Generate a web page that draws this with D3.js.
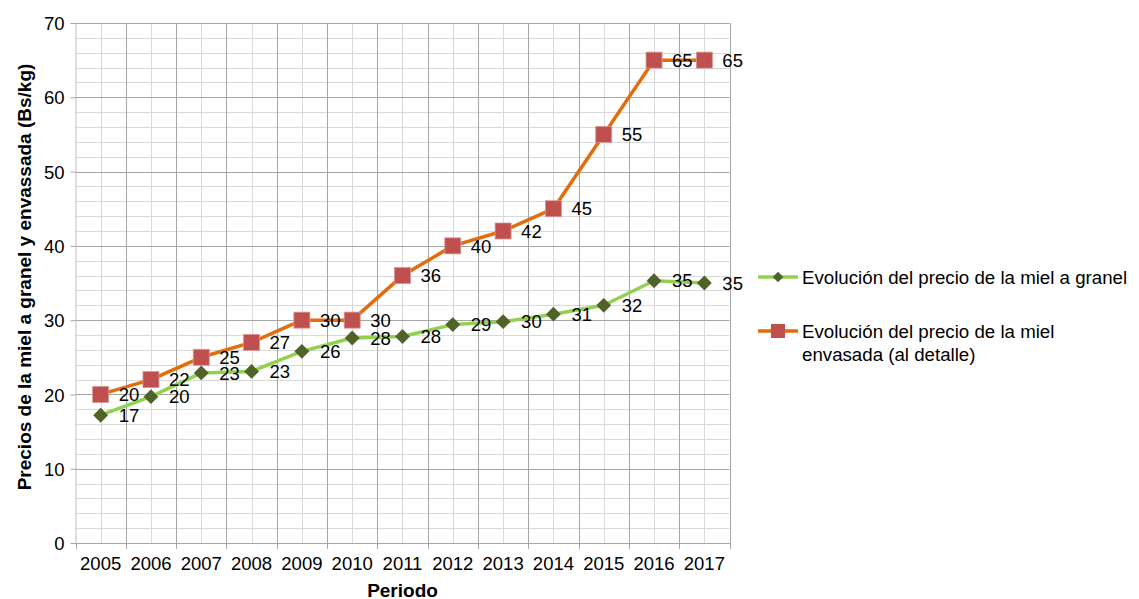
<!DOCTYPE html>
<html>
<head>
<meta charset="utf-8">
<script src="https://cdn.jsdelivr.net/npm/d3@7"></script>
<style>
  body { margin: 0; background: #fff; }
  text { font-family: "Liberation Sans", Arial, sans-serif; fill: #000; }
</style>
</head>
<body>
<div id="chart"></div>
<script>
// datos
var years = ["2005", "2006", "2007", "2008", "2009", "2010", "2011", "2012", "2013", "2014", "2015", "2016", "2017"];
var granel = [17.2, 19.7, 22.9, 23.1, 25.8, 27.6, 27.8, 29.4, 29.8, 30.8, 32.0, 35.3, 35.0];
var granelLabels = [17, 20, 23, 23, 26, 28, 28, 29, 30, 31, 32, 35, 35];
var envasada = [20, 22, 25, 27, 30, 30, 36, 40, 42, 45, 55, 65, 65];
var envasadaLabels = [20, 22, 25, 27, 30, 30, 36, 40, 42, 45, 55, 65, 65];
var yTicks = [0, 10, 20, 30, 40, 50, 60, 70];
var seriesNames = ["Evolución del precio de la miel a granel", "Evolución del precio de la miel envasada (al detalle)"];

var W = 1139, H = 599;
var pLeft = 75.5, pRight = 729.5, pTop = 23, pBottom = 543;

var svg = d3.select("#chart").append("svg")
    .attr("width", W)
    .attr("height", H);

var x = d3.scaleBand().domain(years).range([pLeft, pRight]).padding(0);
var y = d3.scaleLinear().domain([0, 70]).range([pBottom, pTop]);

var grid = svg.append("g");

// lineas menores horizontales (cada 2)
grid.selectAll("line.hmin")
    .data(d3.range(0, 71, 2).filter(function(d) { return d % 10 != 0; }))
    .enter().append("line")
    .attr("x1", pLeft).attr("x2", pRight)
    .attr("y1", function(d) { return Math.round(y(d)) + 0.5; })
    .attr("y2", function(d) { return Math.round(y(d)) + 0.5; })
    .style("stroke", "#d9d9d9");

// lineas menores verticales (centro de categoria)
grid.selectAll("line.vmin")
    .data(years)
    .enter().append("line")
    .attr("x1", function(d) { return Math.round(x(d) + x.bandwidth() / 2) + 0.5; })
    .attr("x2", function(d) { return Math.round(x(d) + x.bandwidth() / 2) + 0.5; })
    .attr("y1", pTop).attr("y2", pBottom)
    .style("stroke", "#d9d9d9");

// lineas mayores horizontales
grid.selectAll("line.hmaj")
    .data(yTicks.slice(1))
    .enter().append("line")
    .attr("x1", pLeft).attr("x2", pRight)
    .attr("y1", function(d) { return Math.round(y(d)) + 0.5; })
    .attr("y2", function(d) { return Math.round(y(d)) + 0.5; })
    .style("stroke", "#a6a6a6");

// lineas mayores verticales (limites)
var edges = years.slice(1).map(function(d) { return x(d); }).concat([pRight]);
grid.selectAll("line.vmaj")
    .data(edges)
    .enter().append("line")
    .attr("x1", function(d) { return Math.round(d) + 0.5; })
    .attr("x2", function(d) { return Math.round(d) + 0.5; })
    .attr("y1", pTop).attr("y2", pBottom)
    .style("stroke", "#a6a6a6");

// eje Y
var yAxis = svg.append("g")
    .attr("transform", "translate(" + pLeft + ",0)")
    .call(d3.axisLeft(y).tickValues(yTicks).tickSize(5).tickPadding(6));
yAxis.select(".domain").style("stroke", "#bfbfbf");
yAxis.selectAll(".tick line").style("stroke", "#a6a6a6");
yAxis.selectAll(".tick text").style("font-size", "18.5px").attr("dy", "0.36em");

// eje X
var xAxis = svg.append("g")
    .attr("transform", "translate(0," + pBottom + ")")
    .call(d3.axisBottom(x).tickSize(0).tickPadding(13));
xAxis.select(".domain").style("stroke", "#a6a6a6");
xAxis.selectAll(".tick text").style("font-size", "18.5px").attr("dy", "0.75em");
svg.append("g").selectAll("line")
    .data([pLeft].concat(edges))
    .enter().append("line")
    .attr("x1", function(d) { return Math.round(d) + 0.5; })
    .attr("x2", function(d) { return Math.round(d) + 0.5; })
    .attr("y1", pBottom).attr("y2", pBottom + 6)
    .style("stroke", "#a6a6a6");

// titulos
svg.append("text")
    .attr("transform", "translate(31," + ((pTop + pBottom) / 2 - 6) + ") rotate(-90)")
    .attr("text-anchor", "middle")
    .style("font-size", "19px")
    .style("font-weight", "bold")
    .text("Precios de la miel a granel y envassada (Bs/kg)");

svg.append("text")
    .attr("x", (pLeft + pRight) / 2)
    .attr("y", 597)
    .attr("text-anchor", "middle")
    .style("font-size", "19px")
    .style("font-weight", "bold")
    .text("Periodo");

var cx = function(d, i) { return x(years[i]) + x.bandwidth() / 2; };

var line = d3.line()
    .x(function(d, i) { return cx(d, i); })
    .y(function(d) { return y(d); });

// serie envasada
svg.append("path")
    .datum(envasada)
    .attr("d", line)
    .style("fill", "none")
    .style("stroke", "#e46c0a")
    .style("stroke-width", 3.5)
    .style("stroke-linejoin", "round");

// serie granel
svg.append("path")
    .datum(granel)
    .attr("d", line)
    .style("fill", "none")
    .style("stroke", "#92d050")
    .style("stroke-width", 3.5)
    .style("stroke-linejoin", "round");

svg.append("g").selectAll("rect")
    .data(envasada)
    .enter().append("rect")
    .attr("x", function(d, i) { return cx(d, i) - 8; })
    .attr("y", function(d) { return y(d) - 8; })
    .attr("width", 16).attr("height", 16)
    .style("fill", "#c0504d")
    .style("stroke", "#d99694")
    .style("stroke-width", 0.8);

var diamond = d3.symbol().type(d3.symbolDiamond2).size(140);
svg.append("g").selectAll("path")
    .data(granel)
    .enter().append("path")
    .attr("d", diamond)
    .attr("transform", function(d, i) { return "translate(" + cx(d, i) + "," + y(d) + ")"; })
    .style("fill", "#4f6228");

// etiquetas
svg.append("g").selectAll("text")
    .data(envasada)
    .enter().append("text")
    .attr("x", function(d, i) { return cx(d, i) + 18; })
    .attr("y", function(d) { return y(d); })
    .attr("dy", "0.36em")
    .style("font-size", "18.5px")
    .text(function(d, i) { return envasadaLabels[i]; });

svg.append("g").selectAll("text")
    .data(granel)
    .enter().append("text")
    .attr("x", function(d, i) { return cx(d, i) + 18; })
    .attr("y", function(d) { return y(d); })
    .attr("dy", "0.36em")
    .style("font-size", "18.5px")
    .text(function(d, i) { return granelLabels[i]; });

// leyenda
var lg = svg.append("g");
lg.append("line")
    .attr("x1", 758).attr("x2", 798).attr("y1", 277).attr("y2", 277)
    .style("stroke", "#92d050").style("stroke-width", 3.5);
lg.append("path")
    .attr("d", d3.symbol().type(d3.symbolDiamond2).size(70))
    .attr("transform", "translate(778,277)")
    .style("fill", "#4f6228");
lg.append("text")
    .attr("x", 802).attr("y", 277).attr("dy", "0.36em")
    .style("font-size", "18.7px")
    .text(seriesNames[0]);

lg.append("line")
    .attr("x1", 758).attr("x2", 798).attr("y1", 331).attr("y2", 331)
    .style("stroke", "#e46c0a").style("stroke-width", 3.5);
lg.append("rect")
    .attr("x", 771).attr("y", 324).attr("width", 14).attr("height", 14)
    .style("fill", "#c0504d");
lg.append("text")
    .attr("x", 802).attr("y", 331).attr("dy", "0.36em")
    .style("font-size", "18.7px")
    .text("Evolución del precio de la miel");
lg.append("text")
    .attr("x", 802).attr("y", 354).attr("dy", "0.36em")
    .style("font-size", "18.7px")
    .text("envasada (al detalle)");
</script>
</body>
</html>
